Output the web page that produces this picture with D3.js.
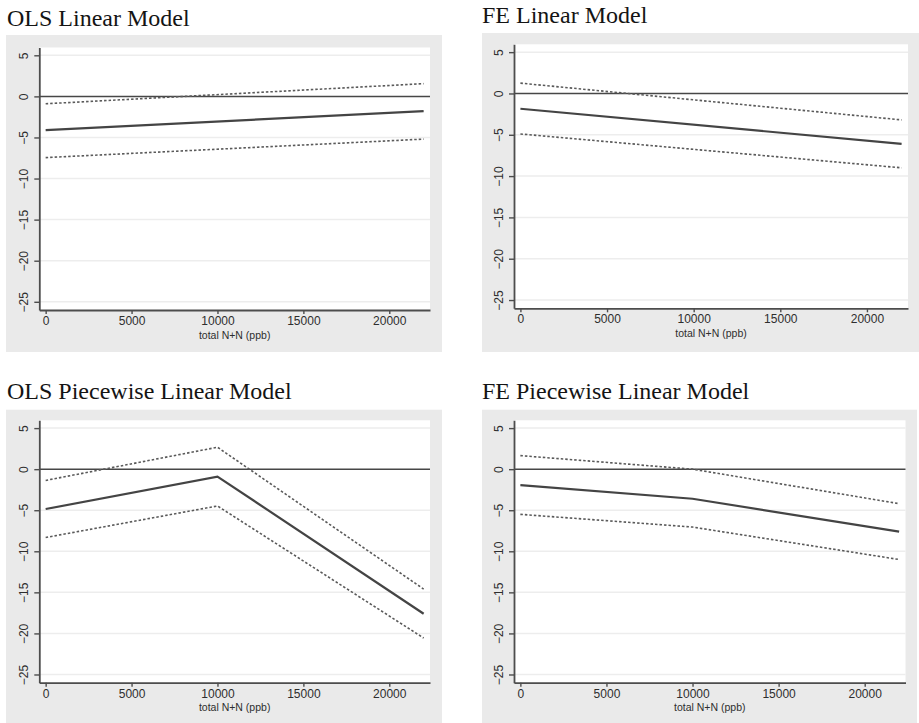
<!DOCTYPE html>
<html>
<head>
<meta charset="utf-8">
<script src="https://cdn.jsdelivr.net/npm/d3@7"></script>
<style>
  body { margin: 0; background: #fff; }
  svg { display: block; }
</style>
</head>
<body>
<svg id="chart" width="919" height="723"></svg>
<script>
// ---- data ----
const panelTitles = ["OLS Linear Model", "FE Linear Model", "OLS Piecewise Linear Model", "FE Piecewise Linear Model"];
const xAxisTitle = "total N+N (ppb)";
const xTicks = [0, 5000, 10000, 15000, 20000];
const yTicks = [5, 0, -5, -10, -15, -20, -25];

// nitrogen levels where each fitted line is evaluated
const linearX = [0, 22000];
const piecewiseX = [0, 10000, 22000];

// OLS linear model: fit and 95% band
const olsLinearFit = [-4.1, -1.8];
const olsLinearUpper = [-0.9, 1.55];
const olsLinearLower = [-7.45, -5.2];

// FE linear model
const feLinearFit = [-1.85, -6.1];
const feLinearUpper = [1.25, -3.2];
const feLinearLower = [-4.9, -9.0];

// OLS piecewise linear model (knot at 10000)
const olsPiecewiseFit = [-4.85, -0.9, -17.6];
const olsPiecewiseUpper = [-1.37, 2.67, -14.6];
const olsPiecewiseLower = [-8.32, -4.48, -20.56];

// FE piecewise linear model (knot at 10000)
const fePiecewiseFit = [-1.95, -3.6, -7.6];
const fePiecewiseUpper = [1.65, 0.0, -4.2];
const fePiecewiseLower = [-5.5, -7.05, -11.0];

// ---- layout ----
const xDomain = [-370, 22370];
const yDomain = [-26, 5.95];

const panels = [
  { title: panelTitles[0], tx: 7, ty: 26, bg: [6, 35, 436, 317], plot: [39.3, 47.5, 430, 310],
    xs: linearX, fit: olsLinearFit, up: olsLinearUpper, lo: olsLinearLower },
  { title: panelTitles[1], tx: 482, ty: 22.7, bg: [482, 33, 437, 319], plot: [514, 44.3, 908, 308.3],
    xs: linearX, fit: feLinearFit, up: feLinearUpper, lo: feLinearLower },
  { title: panelTitles[2], tx: 7, ty: 398.7, bg: [6, 409.7, 436, 313.3], plot: [39.3, 420.3, 430, 682.7],
    xs: piecewiseX, fit: olsPiecewiseFit, up: olsPiecewiseUpper, lo: olsPiecewiseLower },
  { title: panelTitles[3], tx: 482, ty: 398.7, bg: [482, 409.7, 435, 313.3], plot: [514, 420.3, 905.5, 682.7],
    xs: piecewiseX, fit: fePiecewiseFit, up: fePiecewiseUpper, lo: fePiecewiseLower }
];

const svg = d3.select("#chart");
const axisColor = "#4d4d4d";
const sans = "'Liberation Sans', Arial, sans-serif";

panels.forEach(p => {
  const [l, t, r, b] = p.plot;
  const x = d3.scaleLinear().domain(xDomain).range([l, r]);
  const y = d3.scaleLinear().domain(yDomain).range([b, t]);
  const g = svg.append("g");

  // title
  g.append("text")
    .attr("x", p.tx).attr("y", p.ty)
    .attr("font-family", "'Liberation Serif', 'Times New Roman', serif")
    .attr("font-size", 24)
    .attr("fill", "#141414")
    .text(p.title);

  // graph region and plot region
  g.append("rect")
    .attr("x", p.bg[0]).attr("y", p.bg[1]).attr("width", p.bg[2]).attr("height", p.bg[3])
    .attr("fill", "#eaeaea");
  g.append("rect")
    .attr("x", l).attr("y", t).attr("width", r - l).attr("height", b - t)
    .attr("fill", "#ffffff");

  // horizontal grid lines
  g.append("g").selectAll("line")
    .data(yTicks.filter(v => v !== 0))
    .join("line")
    .attr("x1", l).attr("x2", r)
    .attr("y1", d => y(d)).attr("y2", d => y(d))
    .attr("stroke", "#ededed").attr("stroke-width", 1.5);

  // zero reference line
  g.append("line")
    .attr("x1", l).attr("x2", r)
    .attr("y1", y(0)).attr("y2", y(0))
    .attr("stroke", "#474747").attr("stroke-width", 1.5);

  // confidence bounds and fitted line
  const line = d3.line().x(d => x(d[0])).y(d => y(d[1]));
  const pts = vals => p.xs.map((xv, i) => [xv, vals[i]]);

  [p.up, p.lo].forEach(vals => {
    g.append("path")
      .attr("d", line(pts(vals)))
      .attr("fill", "none")
      .attr("stroke", "#5a5a5a")
      .attr("stroke-width", 1.6)
      .attr("stroke-dasharray", "2.5,2");
  });
  g.append("path")
    .attr("d", line(pts(p.fit)))
    .attr("fill", "none")
    .attr("stroke", "#444")
    .attr("stroke-width", 2.2);

  // y axis
  const yAxis = g.append("g")
    .attr("transform", `translate(${l},0)`)
    .call(d3.axisLeft(y).tickValues(yTicks).tickSize(5).tickSizeOuter(0));
  yAxis.select(".domain").attr("stroke", axisColor).attr("stroke-width", 1.8);
  yAxis.selectAll(".tick line").attr("stroke", axisColor).attr("stroke-width", 1.4);
  yAxis.selectAll(".tick text")
    .attr("x", 0).attr("dy", 0)
    .attr("text-anchor", "middle")
    .attr("transform", "translate(-11,0) rotate(-90)")
    .attr("font-family", sans).attr("font-size", 12).attr("fill", "#2e2e2e");

  // x axis
  const xAxis = g.append("g")
    .attr("transform", `translate(0,${b})`)
    .call(d3.axisBottom(x).tickValues(xTicks).tickSize(4).tickSizeOuter(0).tickFormat(d3.format("d")));
  xAxis.select(".domain").attr("stroke", axisColor).attr("stroke-width", 1.8);
  xAxis.selectAll(".tick line").attr("stroke", axisColor).attr("stroke-width", 1.4);
  xAxis.selectAll(".tick text")
    .attr("y", 15).attr("dy", 0)
    .attr("font-family", sans).attr("font-size", 12).attr("fill", "#2e2e2e");

  // x axis title
  g.append("text")
    .attr("x", (l + r) / 2).attr("y", b + 28.5)
    .attr("text-anchor", "middle")
    .attr("font-family", sans).attr("font-size", 10.5).attr("fill", "#2e2e2e")
    .text(xAxisTitle);
});
</script>
</body>
</html>
